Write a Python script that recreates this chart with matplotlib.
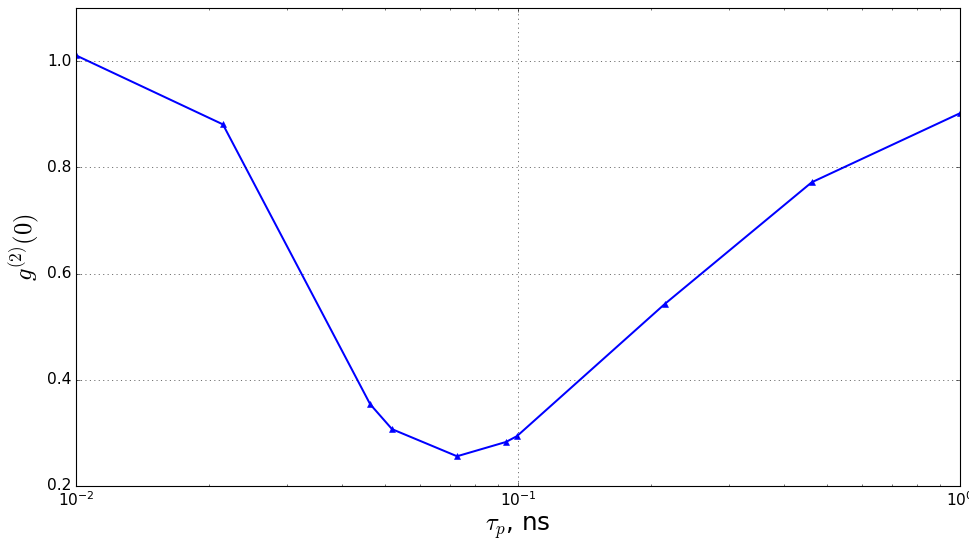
import numpy as np
import matplotlib
matplotlib.use('Agg')
from matplotlib import pyplot as plt

# pulse duration (ns) and g2(0)
tau_p = [0.01, 0.0215, 0.0463, 0.0519, 0.0728, 0.094, 0.0995, 0.215, 0.462, 1.0]
g2_0 = [1.011, 0.881, 0.354, 0.307, 0.256, 0.283, 0.294, 0.543, 0.772, 0.902]

plt.style.use('classic')
plt.rcParams['axes.unicode_minus'] = False

fig = plt.figure(figsize=(969/80., 540/80.), dpi=80, facecolor='white')
ax = fig.add_axes([0.0784, 0.1, 0.9123, 0.885])
ax.plot(tau_p, g2_0, '^-', color='b', lw=1.8, ms=5.5, mec='b')
ax.set_xscale('log')
ax.set_xlim(1e-2, 1e0)
ax.set_ylim(0.2, 1.1)
ax.set_yticks([0.2, 0.4, 0.6, 0.8, 1.0])
ax.tick_params(labelsize=14)
ax.grid(True)
ax.set_xlabel(r'$\tau_p$, ns', fontsize=22, labelpad=5)
ax.set_ylabel(r'$g^{(2)}(0)$', fontsize=22)

fig.savefig('out.png', dpi=80, facecolor='white')
